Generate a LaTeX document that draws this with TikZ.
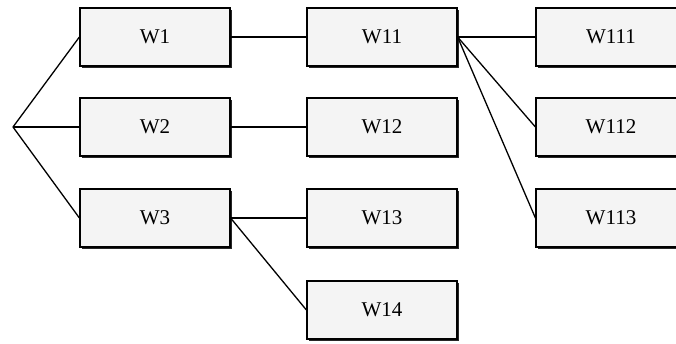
\documentclass[tikz,border=0pt]{standalone}
\usepackage{fontspec}
\setmainfont{Liberation Serif}
\usetikzlibrary{shadows}
\begin{document}
\begin{tikzpicture}[x=1pt,y=-1pt,
  wbox/.style={draw=black, line width=1.2pt, fill=gray!9, minimum width=150pt, minimum height=58pt,
    inner sep=0pt, font=\fontsize{21}{23}\selectfont,
    drop shadow={shadow xshift=2pt, shadow yshift=-2pt, fill=black!85, opacity=1}},
  conn/.style={draw=black, line width=1.3pt}]
\useasboundingbox (0,0) rectangle (676,343);
\clip (0,0) rectangle (676,343);
\coordinate (root) at (13,127);
\node[wbox] (w1) at (155,37) {W1};
\node[wbox] (w2) at (155,127) {W2};
\node[wbox] (w3) at (155,218) {W3};
\node[wbox] (w11) at (382,37) {W11};
\node[wbox] (w12) at (382,127) {W12};
\node[wbox] (w13) at (382,218) {W13};
\node[wbox] (w14) at (382,310) {W14};
\node[wbox] (w111) at (611,37) {W111};
\node[wbox] (w112) at (611,127) {W112};
\node[wbox] (w113) at (611,218) {W113};
\draw[conn] (root) -- (w1.west);
\draw[conn] (root) -- (w2.west);
\draw[conn] (root) -- (w3.west);
\draw[conn] (w1.east) -- (w11.west);
\draw[conn] (w2.east) -- (w12.west);
\draw[conn] (w3.east) -- (w13.west);
\draw[conn] (w3.east) -- (w14.west);
\draw[conn] (w11.east) -- (w111.west);
\draw[conn] (w11.east) -- (w112.west);
\draw[conn] (w11.east) -- (w113.west);
\end{tikzpicture}
\end{document}
